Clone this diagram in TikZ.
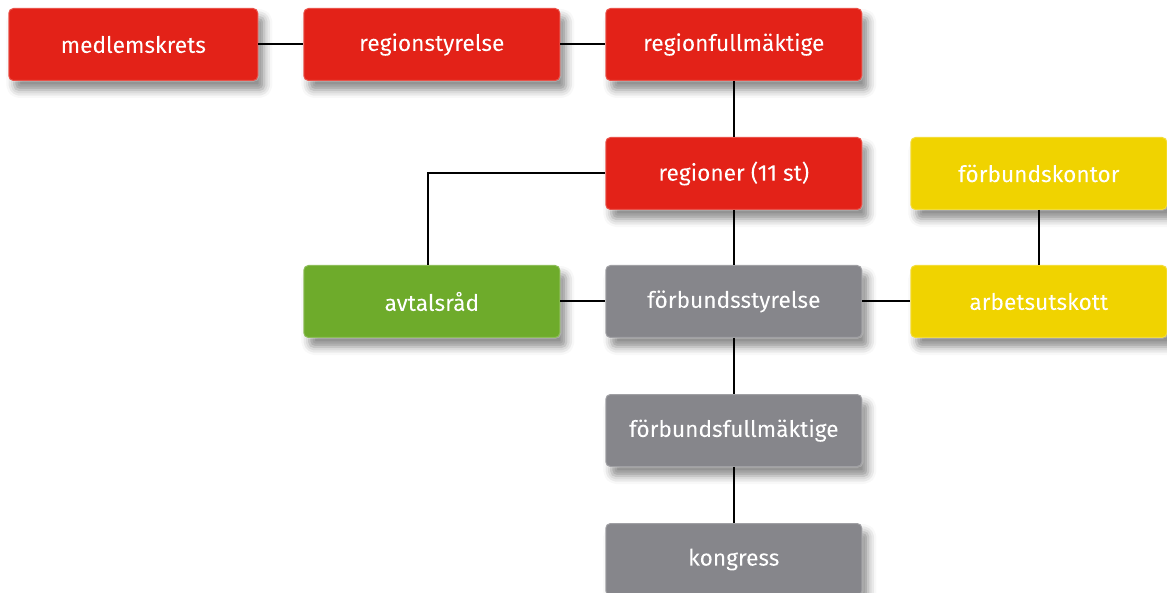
\documentclass[tikz,border=0pt]{standalone}
\usepackage{fontspec}
\setmainfont{Fira Sans}
\newfontfamily\boxfont{Fira Sans}[FakeBold=0.5]
\usepackage{tikz}
\usetikzlibrary{positioning,shadows.blur}

\definecolor{rod}{HTML}{E32218}
\definecolor{gra}{HTML}{86868B}
\definecolor{gron}{HTML}{6EAB2B}
\definecolor{gul}{HTML}{F0D300}

\begin{document}
\begin{tikzpicture}[x=1pt,y=1pt,
  box/.style={rectangle,rounded corners=5pt,minimum width=257pt,minimum height=73pt,outer sep=0pt,
    text=white,font=\boxfont\fontsize{22.7}{26}\selectfont,
    draw=white,draw opacity=0.22,line width=2pt,
    blur shadow={shadow xshift=6pt,shadow yshift=-9pt,shadow blur radius=8pt,shadow opacity=45}},
  red/.style={box,fill=rod},
  grey/.style={box,fill=gra},
  green/.style={box,fill=gron},
  yellow/.style={box,fill=gul},
  link/.style={draw,line width=2pt}]
  \useasboundingbox (0,0) rectangle (1167,-593);
  \clip (0,0) rectangle (1167,-593);
  \node [red, minimum width=250pt] (medlem) at (133.3,-44.5) {medlemskrets};
  \node [red] (regstyr) at (431.8,-44.5) {regionstyrelse};
  \node [red, right=45pt of regstyr] (regfull) {regionfullmäktige};
  \node [red, below=56pt of regfull] (regioner) {regioner (11 st)};
  \node [grey, below=55pt of regioner] (fstyr) {förbundsstyrelse};
  \node [grey, below=56pt of fstyr] (ffull) {förbundsfullmäktige};
  \node [grey, below=56pt of ffull] (kongress) {kongress};
  \node [green, left=45pt of fstyr] (avtal) {avtalsråd};
  \node [yellow, right=48pt of fstyr] (arbets) {arbetsutskott};
  \node [yellow, above=55pt of arbets] (kontor) {förbundskontor};

  \path [link] (medlem) -- (regstyr);
  \path [link] (regstyr) -- (regfull);
  \path [link] (regfull) -- (regioner);
  \path [link] (regioner) -- (fstyr);
  \path [link] (regioner.west) -| ([xshift=-4pt]avtal.north);
  \path [link] (avtal) -- (fstyr);
  \path [link] (fstyr) -- (arbets);
  \path [link] (kontor) -- (arbets);
  \path [link] (fstyr) -- (ffull);
  \path [link] (ffull) -- (kongress);
\end{tikzpicture}
\end{document}
